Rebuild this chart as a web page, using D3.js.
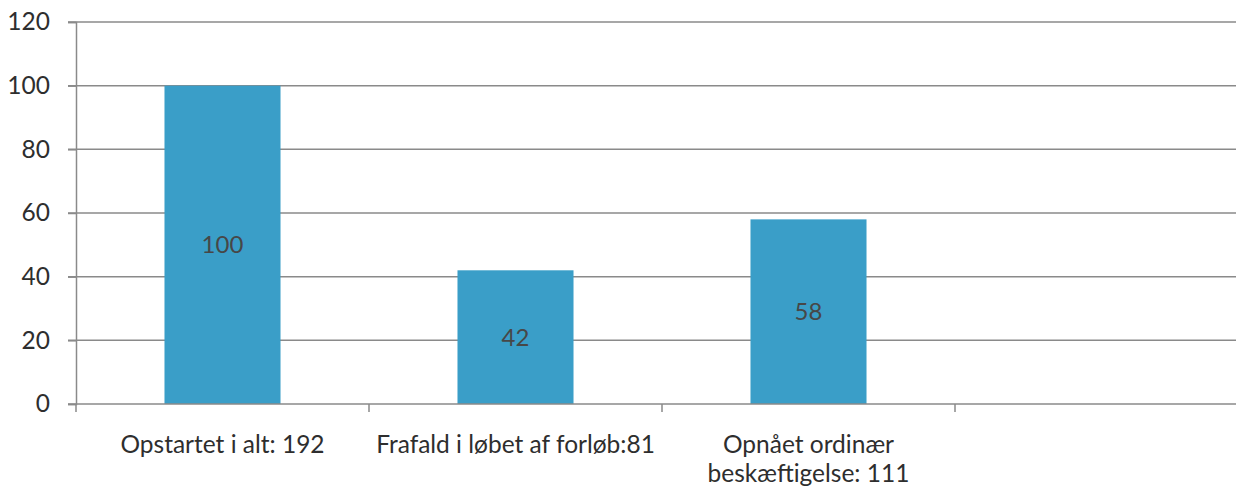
<!DOCTYPE html>
<html><head><meta charset="utf-8">
<script src="https://cdn.jsdelivr.net/npm/d3@7"></script>
<style>body{margin:0;background:#fff;}svg{display:block;}</style>
</head><body>
<script>
const categories = [["Opstartet i alt: 192"], ["Frafald i løbet af forløb:81"], ["Opnået ordinær", "beskæftigelse: 111"], [""]];
const values = [100, 42, 58, null];
const yTicks = [0, 20, 40, 60, 80, 100, 120];

const W = 1236, H = 488;
const mLeft = 76, mRight = 1248, mTop = 22, mBottom = 404;
const font = "Lato, 'Open Sans', sans-serif";
const svg = d3.select("body").append("svg").attr("width", W).attr("height", H);

const keys = categories.map((c, i) => i);
const xSlot = d3.scaleBand().domain(keys).range([mLeft, mRight]).padding(0);
const x = d3.scaleBand().domain(keys).range([mLeft, mRight]).paddingInner(0.604).paddingOuter(0.302);
const y = d3.scaleLinear().domain([0, 120]).range([mBottom, mTop]);

// gridlines
svg.append("g").selectAll("line").data(yTicks.filter(d => d > 0)).join("line")
  .attr("x1", mLeft - 8).attr("x2", W).attr("y1", d => y(d)).attr("y2", d => y(d))
  .attr("stroke", "#8a8a8a").attr("stroke-width", 1.5);

// y axis
const yAx = svg.append("g").attr("transform", `translate(${mLeft},0)`)
  .call(d3.axisLeft(y).tickValues(yTicks).tickSize(8).tickPadding(18));
yAx.select(".domain").attr("stroke", "#8a8a8a").attr("stroke-width", 1.5);
yAx.selectAll(".tick line").attr("stroke", "#8a8a8a").attr("stroke-width", 1.5);
yAx.selectAll(".tick text").attr("font-family", font).attr("font-size", 24.5).attr("fill", "#2e2e2e");

// bars
const data = values.map((v, i) => ({i, v})).filter(d => d.v != null);
svg.append("g").selectAll("rect").data(data).join("rect")
  .attr("x", d => x(d.i)).attr("width", x.bandwidth())
  .attr("y", d => y(d.v)).attr("height", d => y(0) - y(d.v))
  .attr("fill", "#3a9ec8");

// value labels
svg.append("g").selectAll("text").data(data).join("text")
  .attr("x", d => x(d.i) + x.bandwidth() / 2)
  .attr("y", d => (y(d.v) + y(0)) / 2)
  .attr("dy", "0.35em").attr("text-anchor", "middle")
  .attr("font-family", font).attr("font-size", 24).attr("fill", "#474747")
  .text(d => d.v);

// x axis line
svg.append("line").attr("x1", mLeft - 8).attr("x2", W).attr("y1", mBottom).attr("y2", mBottom)
  .attr("stroke", "#8a8a8a").attr("stroke-width", 1.5);
// band boundary ticks
svg.append("g").selectAll("line").data(keys).join("line")
  .attr("x1", d => xSlot(d)).attr("x2", d => xSlot(d))
  .attr("y1", mBottom).attr("y2", mBottom + 8)
  .attr("stroke", "#8a8a8a").attr("stroke-width", 1.5);

// category labels
const lab = svg.append("g").selectAll("text").data(categories.map((c, i) => ({c, i}))).join("text")
  .attr("text-anchor", "middle")
  .attr("font-family", font).attr("font-size", 24.5).attr("fill", "#2e2e2e")
  .attr("y", 444);
lab.selectAll("tspan").data(d => d.c.map(t => ({t, x: xSlot(d.i) + xSlot.bandwidth() / 2}))).join("tspan")
  .attr("x", d => d.x).attr("dy", (d, j) => j === 0 ? "0.35em" : 29)
  .text(d => d.t);
</script>
</body></html>
